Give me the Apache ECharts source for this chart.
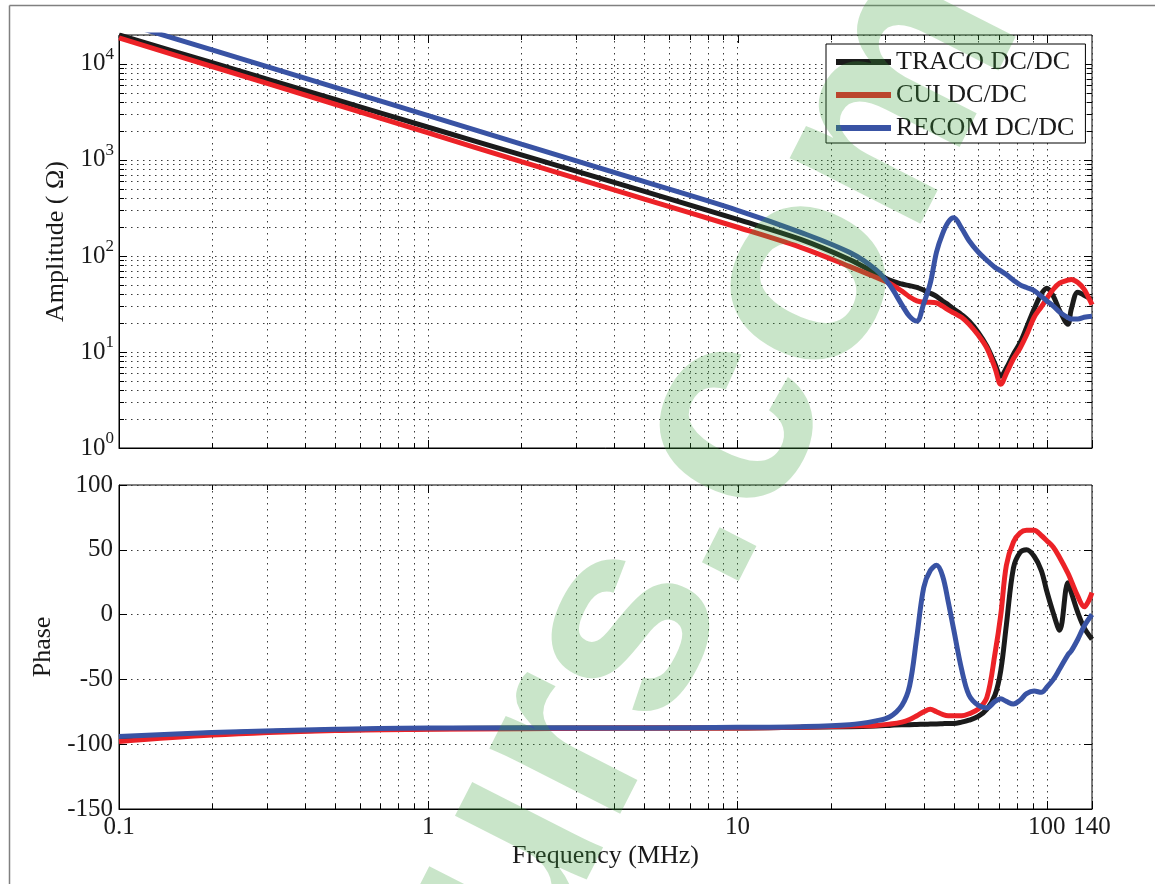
<!DOCTYPE html>
<html>
<head>
<meta charset="utf-8">
<script src="https://cdn.jsdelivr.net/npm/echarts@6/dist/echarts.min.js"></script>
<style>
  html, body { margin: 0; padding: 0; background: #fff; }
  #chart { width: 1155px; height: 884px; }
</style>
</head>
<body>
<div id="chart"></div>
<script>
// Frequency sweep points (MHz)
const freqMHz = [0.1, 0.2, 0.5, 1, 2, 5, 10, 16, 23, 28, 31, 34, 36, 38, 40, 42, 44, 46, 48, 50,
                 53, 56, 60, 64, 68, 71, 74, 78, 82, 86, 91, 96, 100, 105, 110, 117, 120, 126, 132, 140];

// Impedance magnitude (Ohm)
const tracoAmp = [20000, 10300, 4260, 2190, 1130, 470, 240, 149, 92, 66, 56, 51, 49, 47, 44, 41, 38, 34, 31, 28,
                  24.5, 21, 16, 11.5, 7.5, 5.6, 6.8, 9.5, 12.5, 18, 28, 40, 46, 38, 27, 19.5, 28, 42, 39, 35];
const cuiAmp   = [18700, 9400, 3800, 1910, 960, 390, 199, 123, 78, 60, 52, 43, 37.5, 34, 33, 33, 32.5, 30, 27.5, 25.5,
                  23, 19.5, 15, 11, 6.8, 4.6, 6, 8.5, 11, 15, 23, 29.5, 36, 45, 52, 56, 57, 53, 45, 31];
const recomAmp = [27500, 14000, 5700, 2900, 1460, 594, 299, 176, 109, 72, 50, 31, 23.5, 21, 32, 52, 110, 170, 225, 250,
                  195, 145, 110, 90, 76, 70, 64, 56, 50, 47, 43.5, 38, 34, 30, 26, 22.8, 22, 22, 23, 23.5];

// Impedance phase (degrees)
const tracoPhase = [-95, -91.5, -89, -88, -87.5, -87.5, -87.5, -87, -86.5, -86, -85.5, -85, -85, -84.8, -84.6, -84.5, -84.4, -84.2, -84, -84,
                    -83, -81.5, -78.5, -73, -62, -43, -8, 36, 48, 50, 45, 34, 18, 1, -12, 24.6, 17, 1.5, -10, -19];
const cuiPhase   = [-98, -93, -89.5, -88.5, -88, -87.5, -87.5, -87, -86, -85.5, -84.5, -83, -81, -78, -75, -73, -75, -77, -78, -78,
                    -78, -76.5, -73, -64, -30, 0, 38, 56, 63, 65, 65, 61, 57, 52, 44, 32, 26, 14, 6, 17];
const recomPhase = [-94, -91, -88.5, -87.5, -87.5, -87.5, -87, -86.5, -85, -82, -79, -70, -55, -17, 21, 34, 38, 30, 10, -11.5,
                    -42, -62, -70, -72, -67, -65, -67, -69, -66, -61, -59, -60, -56, -50, -42, -31, -28, -19, -9, 0];

const seriesNames = ['TRACO DC/DC', 'CUI DC/DC', 'RECOM DC/DC'];
const seriesColors = ['#1b1b1b', '#ec2227', '#3953a4'];

// Axis tick positions
const freqMajorTicks = [1, 10, 100];
const ampMajorTicks = [10, 100, 1000, 10000];
const phaseTicks = [-100, -50, 0, 50];
const minorSteps = [2, 3, 4, 5, 6, 7, 8, 9];

function minorValues(decades) {
  const out = [];
  decades.forEach(d => minorSteps.forEach(s => out.push(+(s * d).toPrecision(3))));
  return out;
}
const freqMinorTicks = minorValues([0.1, 1, 10]);
const ampMinorTicks = minorValues([1, 10, 100, 1000]);

const FONT = 'Liberation Serif';
const INK = '#1a1a1a';
const dottedGrid = { color: '#3a3a3a', width: 1, type: [1.5, 4.5] };

function pairs(xs, ys) { return xs.map((x, i) => [x, ys[i]]); }

// Minor grid lines plus the tick marks on the mirrored (top/right) edges
function renderGuides(params, api) {
  const cs = params.coordSys;
  const kind = api.value(2);
  const p = api.coord([api.value(0), api.value(1)]);
  const dot = { stroke: '#3a3a3a', lineWidth: 1, lineDash: [1.5, 4.5], fill: null };
  const ink = { stroke: '#000', lineWidth: 1, fill: null };
  const out = [];
  const seg = (x1, y1, x2, y2, style) => out.push({ type: 'line', shape: { x1, y1, x2, y2 }, style });
  const top = cs.y, bottom = cs.y + cs.height, left = cs.x, right = cs.x + cs.width;
  if (kind === 0 || kind === 1) {
    const x = Math.round(p[0]) + 0.5;
    if (kind === 0) {
      seg(x, top, x, bottom, dot);
      seg(x, bottom, x, bottom - 5, ink);
      seg(x, top, x, top + 5, ink);
    } else {
      seg(x, top, x, top + 8, ink);
    }
  } else {
    const y = Math.round(p[1]) + 0.5;
    if (kind === 2) {
      seg(left, y, right, y, dot);
      seg(left, y, left + 5, y, ink);
      seg(right, y, right - 5, y, ink);
    } else {
      seg(right, y, right - 8, y, ink);
    }
  }
  return { type: 'group', children: out };
}

const ampGuides = []
  .concat(freqMinorTicks.map(v => [v, 1, 0]))
  .concat(freqMajorTicks.map(v => [v, 1, 1]))
  .concat(ampMinorTicks.map(v => [1, v, 2]))
  .concat(ampMajorTicks.map(v => [1, v, 3]));
const phaseGuides = []
  .concat(freqMinorTicks.map(v => [v, 0, 0]))
  .concat(freqMajorTicks.map(v => [v, 0, 1]))
  .concat(phaseTicks.map(v => [1, v, 3]));

function freqAxis(gridIndex, withLabels) {
  return {
    gridIndex, type: 'log', logBase: 10, min: 0.1, max: 140,
    axisLine: { show: true, onZero: false, lineStyle: { color: '#000', width: 1 } },
    axisTick: { show: true, inside: true, length: 8, lineStyle: { color: '#000' } },
    axisLabel: {
      show: withLabels, margin: 6, color: INK, fontFamily: FONT, fontSize: 25,
      formatter: v => String(+Number(v).toPrecision(3))
    },
    splitLine: { show: true, lineStyle: dottedGrid },
    name: withLabels ? 'Frequency (MHz)' : '',
    nameLocation: 'middle', nameGap: 34,
    nameTextStyle: { color: INK, fontFamily: FONT, fontSize: 26 }
  };
}

const lineSeries = [];
const ampData = [tracoAmp, cuiAmp, recomAmp];
const phaseData = [tracoPhase, cuiPhase, recomPhase];
seriesNames.forEach((name, i) => {
  lineSeries.push({
    name, type: 'line', xAxisIndex: 0, yAxisIndex: 0, data: pairs(freqMHz, ampData[i]),
    showSymbol: false, smooth: 0.35, clip: true, z: 5,
    lineStyle: { color: seriesColors[i], width: 5 }, itemStyle: { color: seriesColors[i] }
  });
  lineSeries.push({
    name, type: 'line', xAxisIndex: 1, yAxisIndex: 1, data: pairs(freqMHz, phaseData[i]),
    showSymbol: false, smooth: 0.35, clip: true, z: 5,
    lineStyle: { color: seriesColors[i], width: 5 }, itemStyle: { color: seriesColors[i] }
  });
});

const chart = echarts.init(document.getElementById('chart'), null, { renderer: 'canvas' });
chart.setOption({
  animation: false,
  backgroundColor: '#fff',
  grid: [
    { left: 119, top: 35, width: 973, height: 413, show: true, borderColor: '#000', borderWidth: 1, backgroundColor: 'transparent' },
    { left: 119, top: 485, width: 973, height: 324, show: true, borderColor: '#000', borderWidth: 1, backgroundColor: 'transparent' }
  ],
  xAxis: [freqAxis(0, false), freqAxis(1, true)],
  yAxis: [
    {
      gridIndex: 0, type: 'log', logBase: 10, min: 1, max: 20000,
      axisLine: { show: true, onZero: false, lineStyle: { color: '#000', width: 1 } },
      axisTick: { show: true, inside: true, length: 8, lineStyle: { color: '#000' } },
      axisLabel: {
        margin: 5, color: INK, fontFamily: FONT,
        formatter: v => {
          const e = Math.log10(v);
          if (Math.abs(e - Math.round(e)) > 1e-6) return '';
          return '{b|10}{e|' + Math.round(e) + '}';
        },
        rich: {
          b: { fontSize: 25, fontFamily: FONT, color: INK },
          e: { fontSize: 17, fontFamily: FONT, color: INK, padding: [0, 0, 18, 0] }
        }
      },
      splitLine: { show: true, lineStyle: dottedGrid },
      name: 'Amplitude ( Ω)', nameLocation: 'middle', nameGap: 44,
      nameTextStyle: { color: INK, fontFamily: FONT, fontSize: 26 }
    },
    {
      gridIndex: 1, type: 'value', min: -150, max: 100, interval: 50,
      axisLine: { show: true, onZero: false, lineStyle: { color: '#000', width: 1 } },
      axisTick: { show: true, inside: true, length: 8, lineStyle: { color: '#000' } },
      axisLabel: { margin: 6, color: INK, fontFamily: FONT, fontSize: 25 },
      splitLine: { show: true, lineStyle: dottedGrid },
      name: 'Phase', nameLocation: 'middle', nameGap: 44,
      nameTextStyle: { color: INK, fontFamily: FONT, fontSize: 26 }
    }
  ],
  legend: {
    left: 826, top: 44, orient: 'vertical',
    data: seriesNames.map(n => ({ name: n, icon: 'rect' })),
    itemWidth: 55, itemHeight: 6, itemGap: 7,
    padding: [5, 11, 2, 10],
    backgroundColor: '#fff', borderColor: '#000', borderWidth: 1, borderRadius: 0,
    textStyle: { color: INK, fontFamily: FONT, fontSize: 26 },
    selectedMode: false
  },
  series: [
    { type: 'custom', xAxisIndex: 0, yAxisIndex: 0, data: ampGuides, renderItem: renderGuides,
      encode: { x: 0, y: 1 }, silent: true, z: 1, clip: false },
    { type: 'custom', xAxisIndex: 1, yAxisIndex: 1, data: phaseGuides, renderItem: renderGuides,
      encode: { x: 0, y: 1 }, silent: true, z: 1, clip: false }
  ].concat(lineSeries),
  graphic: [
    { type: 'line', shape: { x1: 9.5, y1: 5.5, x2: 1155, y2: 5.5 }, style: { stroke: '#808080', lineWidth: 1.5 }, silent: true },
    { type: 'line', shape: { x1: 9.5, y1: 5.5, x2: 9.5, y2: 884 }, style: { stroke: '#808080', lineWidth: 1.5 }, silent: true },
    {
      type: 'text', x: 590, y: 1010, rotation: 1.1, z: 100, silent: true,
      style: {
        text: 'urs.com', fontSize: 277, fontWeight: 'bold', fontFamily: 'Liberation Sans',
        fill: 'rgba(60,160,60,0.28)', textAlign: 'left', textVerticalAlign: 'bottom'
      }
    }
  ]
});
</script>
</body>
</html>
